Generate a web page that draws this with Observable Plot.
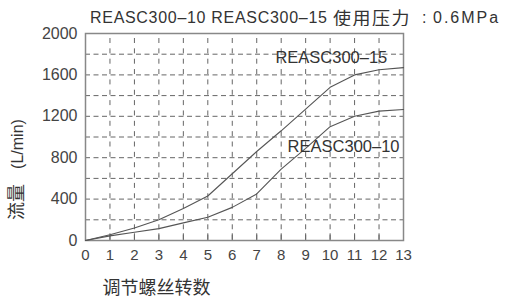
<!DOCTYPE html>
<html>
<head>
<meta charset="utf-8">
<script src="https://cdn.jsdelivr.net/npm/d3@7"></script>
<script src="https://cdn.jsdelivr.net/npm/@observablehq/plot@0.6"></script>
<style>
  html, body { margin: 0; padding: 0; background: #fff; }
  #wrap { position: relative; width: 505px; height: 301px; overflow: hidden; background: #fff; }
  #title { position: absolute; top: 0; left: 0; width: 505px; height: 26px; color: #333; white-space: nowrap; }
  #title span { position: absolute; top: 0; line-height: 35px; }
  .lat { font-family: "Liberation Sans", Arial, sans-serif; font-size: 16px; letter-spacing: 0.7px; }
  .cjk { font-family: "Noto Sans CJK SC", sans-serif; font-size: 18px; letter-spacing: 1.5px; }
  #chart { position: absolute; top: 26px; left: 0; }
</style>
</head>
<body>
<div id="wrap">
  <div id="title">
    <span class="lat" style="left:90px">REASC300–10 REASC300–15</span>
    <span class="cjk" style="left:333px">使用压力</span>
    <span class="lat" style="left:422px">:</span>
    <span class="lat" style="left:433px;letter-spacing:2px">0.6MPa</span>
  </div>
  <div id="chart"></div>
</div>
<script>
const turns = [0, 1, 2, 3, 4, 5, 6, 7, 8, 9, 10, 11, 12, 13];
const flow15 = [0, 55, 120, 200, 310, 430, 645, 860, 1060, 1270, 1480, 1600, 1650, 1670];
const flow10 = [0, 45, 80, 115, 170, 225, 320, 450, 690, 890, 1100, 1200, 1250, 1265];
const xTicks = [0, 1, 2, 3, 4, 5, 6, 7, 8, 9, 10, 11, 12, 13];
const yTicks = [0, 400, 800, 1200, 1600, 2000];
const gridX = [1, 2, 3, 4, 5, 6, 7, 8, 9, 10, 11, 12];
const gridY = [200, 400, 600, 800, 1000, 1200, 1400, 1600, 1800];
const seriesNames = ["REASC300–15", "REASC300–10"];
const labelPos = [{x: 10.05, y: 1765}, {x: 10.55, y: 905}];

const rows = [];
turns.forEach((t, i) => {
  rows.push({series: seriesNames[0], x: t, y: flow15[i]});
  rows.push({series: seriesNames[1], x: t, y: flow10[i]});
});
const labels = seriesNames.map((s, i) => ({text: s, x: labelPos[i].x, y: labelPos[i].y}));

const chart = Plot.plot({
  width: 505,
  height: 275,
  marginLeft: 85,
  marginRight: 102,
  marginTop: 7,
  marginBottom: 61,
  x: {domain: [0, 13]},
  y: {domain: [0, 2000]},
  style: {fontFamily: "'Liberation Sans', Arial, sans-serif", background: "#fff", color: "#444"},
  marks: [
    Plot.ruleY(gridY, {stroke: "#666", strokeWidth: 1, strokeDasharray: "5,3.5"}),
    Plot.ruleX(gridX, {stroke: "#666", strokeWidth: 1, strokeDasharray: "5,5.35", strokeDashoffset: -5}),
    Plot.ruleX(gridX, {y1: 0, y2: 65, stroke: "#666", strokeWidth: 1}),
    Plot.frame({stroke: "#888", strokeWidth: 1.5}),
    Plot.axisY(yTicks, {tickSize: 0, tickPadding: 8, fontSize: 16, label: null, tickFormat: d => String(d)}),
    Plot.axisX(xTicks, {tickSize: 0, tickPadding: 9, fontSize: 15, label: null, tickFormat: d => String(d)}),
    Plot.line(rows, {x: "x", y: "y", z: "series", stroke: "#555", strokeWidth: 1.1}),
    Plot.text(labels, {x: "x", y: "y", text: "text", fontSize: 16.5, fill: "#333", letterSpacing: 0.6}),
    Plot.text(["(L/min)"], {frameAnchor: "left", textAnchor: "middle", lineAnchor: "middle", dx: -68, dy: 7, rotate: -90, fontSize: 16, fill: "#333"}),
    Plot.text(["流量"], {frameAnchor: "left", textAnchor: "middle", lineAnchor: "middle", dx: -68, dy: 65, rotate: -90, fontSize: 18, fill: "#333", fontFamily: "'Noto Sans CJK SC', sans-serif"}),
    Plot.text(["调节螺丝转数"], {frameAnchor: "bottom", textAnchor: "middle", lineAnchor: "middle", dx: -88, dy: 48, fontSize: 18, fill: "#333", fontFamily: "'Noto Sans CJK SC', sans-serif"})
  ]
});
document.getElementById("chart").appendChild(chart);
</script>
</body>
</html>
